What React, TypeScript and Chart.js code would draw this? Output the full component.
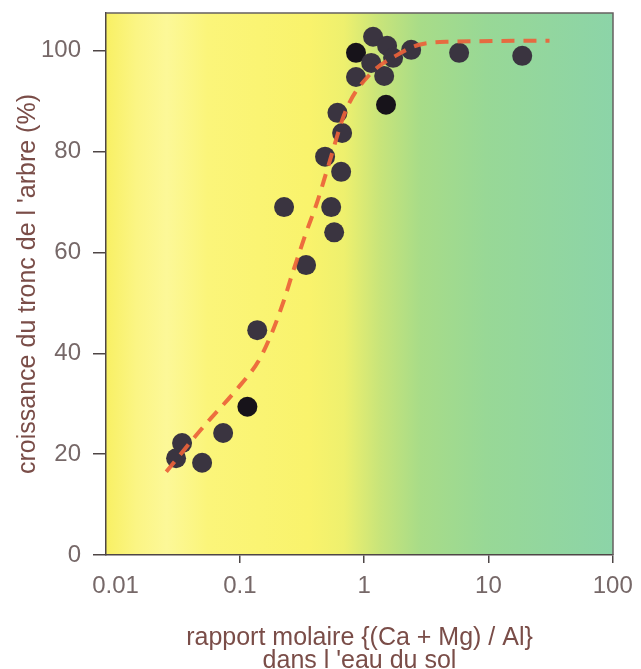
import React, { useEffect, useRef } from "react";
import { Chart, registerables } from "chart.js";

Chart.register(...registerables);

// Tick labels
const xTicks = [0.01, 0.1, 1, 10, 100];
const yTicks = [0, 20, 40, 60, 80, 100];

// Observed points: molar ratio (Ca+Mg)/Al vs trunk growth (%)
const ratio = [1.18, 0.86, 0.86, 1.53, 1.14, 1.45, 1.71, 2.39, 1.5, 5.81, 18.7, 0.61, 0.665, 0.485, 0.653, 0.227, 0.543, 0.574, 0.341, 0.138, 0.115, 0.0734, 0.0343, 0.0307, 0.0497];
const growth = [102.8, 99.6, 94.8, 101, 97.6, 95, 98.6, 100.2, 89.3, 99.6, 99, 87.7, 83.7, 79, 76, 69, 69, 64, 57.5, 44.6, 29.4, 24.2, 22.2, 19.2, 18.3];
const darkPoint = [false, true, false, false, false, false, false, false, true, false, false, false, false, false, false, false, false, false, false, false, true, false, false, false, false];

// Fitted (dashed) curve
const fitRatio = [0.0256, 0.0447, 0.0589, 0.0933, 0.143, 0.182, 0.227, 0.263, 0.341, 0.419, 0.504, 0.716, 1.1, 1.85, 2.77, 5, 31];
const fitGrowth = [16.5, 23.8, 27.2, 32.7, 38.7, 44.2, 50.6, 55.6, 63.9, 70, 76.4, 88.3, 95.2, 99.2, 101.2, 101.8, 102];

const xTitle = ["rapport molaire {(Ca + Mg) / Al}", "dans l 'eau du sol"];
const yTitle = "croissance du tronc de l 'arbre (%)";

const FONT = "'Liberation Sans', Arial, sans-serif";
const TICK_COLOR = "#766868";
const TITLE_COLOR = "#7a4d48";
const AXIS_COLOR = "#4e4646";

const bgPlugin = {
  id: "bgGradient",
  beforeDraw(chart: any) {
    const { ctx, chartArea } = chart;
    const { left, top, right, bottom } = chartArea;
    ctx.save();
    ctx.fillStyle = "#ffffff";
    ctx.fillRect(0, 0, chart.width, chart.height);
    const g = ctx.createLinearGradient(left, 0, right, 0);
    g.addColorStop(0, "#f8f064");
    g.addColorStop(0.06, "#fbf584");
    g.addColorStop(0.12, "#fcf898");
    g.addColorStop(0.2, "#fbf57a");
    g.addColorStop(0.4, "#f9f36c");
    g.addColorStop(0.47, "#eef06e");
    g.addColorStop(0.54, "#c8e47a");
    g.addColorStop(0.62, "#a8dc88");
    g.addColorStop(0.75, "#98d896");
    g.addColorStop(1, "#8cd4a8");
    ctx.fillStyle = g;
    ctx.fillRect(left, top, right - left, bottom - top);
    ctx.restore();
  },
  afterDraw(chart: any) {
    const { ctx, chartArea } = chart;
    const { left, top, right, bottom } = chartArea;
    ctx.save();
    ctx.strokeStyle = "#666060";
    ctx.lineWidth = 1.5;
    ctx.beginPath();
    ctx.moveTo(left, top);
    ctx.lineTo(right, top);
    ctx.lineTo(right, bottom);
    ctx.stroke();
    ctx.restore();
  },
};

export default function App() {
  const ref = useRef<HTMLCanvasElement | null>(null);

  useEffect(() => {
    if (!ref.current) return;
    Chart.defaults.font.family = FONT;
    const chart = new Chart(ref.current, {
      type: "scatter",
      data: {
        datasets: [
          {
            type: "line",
            data: fitRatio.map((x, i) => ({ x, y: fitGrowth[i] })),
            borderColor: "rgba(236, 98, 58, 0.92)",
            borderWidth: 4,
            borderDash: [13, 9],
            pointRadius: 0,
            fill: false,
            cubicInterpolationMode: "monotone",
            order: 1,
          } as any,
          {
            type: "scatter",
            data: ratio.map((x, i) => ({ x, y: growth[i] })),
            backgroundColor: darkPoint.map((d) => (d ? "#17131a" : "#3a3440")),
            borderWidth: 0,
            pointRadius: 10,
            pointHoverRadius: 10,
            order: 2,
          } as any,
        ],
      },
      options: {
        animation: false,
        responsive: false,
        maintainAspectRatio: false,
        layout: { padding: { top: 13, right: 28, left: 0, bottom: 0 } },
        plugins: { legend: { display: false }, tooltip: { enabled: false } },
        scales: {
          x: {
            type: "logarithmic",
            min: 0.00838,
            max: 100.5,
            afterBuildTicks: (s: any) => {
              s.ticks = xTicks.map((v) => ({ value: v }));
            },
            afterFit: (s: any) => {
              s.height = 114;
              s.paddingLeft = 0;
              s.paddingRight = 0;
            },
            ticks: {
              autoSkip: false,
              maxRotation: 0,
              padding: 9,
              color: TICK_COLOR,
              font: { size: 24 },
              callback: (v: any) => String(v),
            },
            grid: {
              drawOnChartArea: false,
              drawTicks: true,
              tickLength: 8,
              lineWidth: 1.5,
              color: (c: any) => (c.index === 0 ? "rgba(0,0,0,0)" : AXIS_COLOR),
            },
            border: { display: true, color: AXIS_COLOR, width: 1.5 },
            title: {
              display: true,
              text: xTitle,
              color: TITLE_COLOR,
              font: { size: 25, lineHeight: 0.92 },
              padding: { top: 0, bottom: -4 },
            },
          },
          y: {
            type: "linear",
            min: 0,
            max: 107.5,
            afterBuildTicks: (s: any) => {
              s.ticks = yTicks.map((v) => ({ value: v }));
            },
            afterFit: (s: any) => {
              s.width = 106;
              s.paddingTop = 0;
              s.paddingBottom = 0;
            },
            ticks: {
              padding: 12,
              color: TICK_COLOR,
              font: { size: 24 },
            },
            grid: {
              drawOnChartArea: false,
              drawTicks: true,
              tickLength: 13,
              lineWidth: 1.5,
              color: AXIS_COLOR,
            },
            border: { display: true, color: AXIS_COLOR, width: 1.5 },
            title: {
              display: true,
              text: yTitle,
              color: TITLE_COLOR,
              font: { size: 25 },
              padding: { top: 13, bottom: 0 },
            },
          },
        },
      },
      plugins: [bgPlugin],
    } as any);
    return () => chart.destroy();
  }, []);

  return (
    <div style={{ position: "absolute", left: 0, top: 0, width: 641, height: 669 }}>
      <canvas ref={ref} width={641} height={669} style={{ width: 641, height: 669, display: "block" }} />
    </div>
  );
}
